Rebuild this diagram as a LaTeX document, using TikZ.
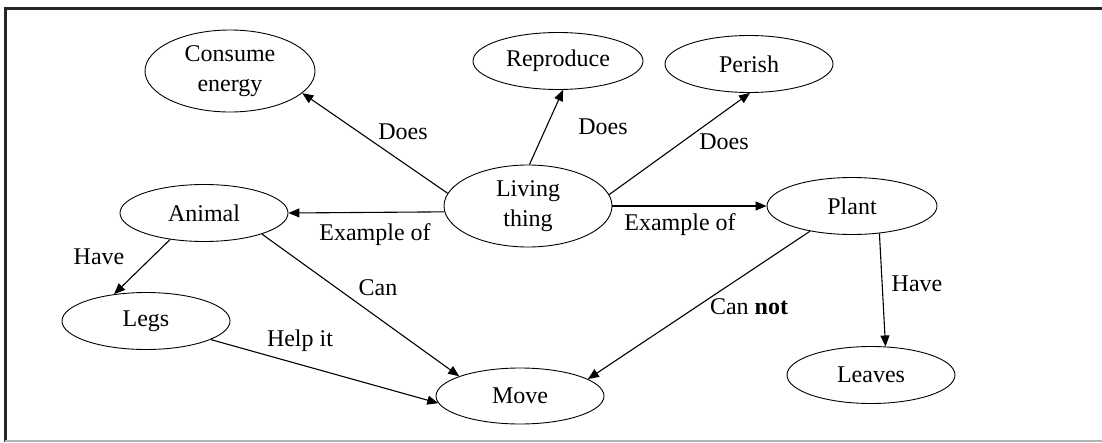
\documentclass[tikz,border=0pt]{standalone}
\usepackage{fontspec}
\setmainfont{Liberation Serif}
\usetikzlibrary{arrows.meta,shapes.geometric}

\begin{document}
\begin{tikzpicture}[x=1pt,y=-1pt,
  concept/.style={draw,ellipse,line width=0.9pt,inner sep=0pt,minimum width=168pt,minimum height=57pt,align=center,font=\fontsize{24}{29}\selectfont},
  bigconcept/.style={concept,minimum height=82pt,font=\fontsize{24}{30}\selectfont},
  link/.style={-{Triangle[length=11pt,width=9pt]},line width=1.1pt},
  lbl/.style={font=\fontsize{24}{29}\selectfont,inner sep=0pt}]
  \useasboundingbox (0,0) rectangle (1102,442);
  % frame
  \draw[line width=3pt,black!85] (5,442) -- (5,8) -- (1102,8);
  \draw[line width=1.2pt,gray!60] (5,441) -- (1102,441);
  % top row
  \node[bigconcept,minimum width=170pt] (cons) at (230,71) {Consume\\energy};
  \node[concept,minimum width=170pt] (rep) at (558,61) {Reproduce};
  \node[concept] (per) at (749,64) {Perish};
  % middle row
  \node[concept] (ani) at (204,213) {Animal};
  \node[bigconcept] (live) at (528,206) {Living\\thing};
  \node[concept,minimum width=170pt] (plant) at (852,206) {Plant};
  % bottom row
  \node[concept] (legs) at (146,321) {Legs};
  \node[concept,minimum height=56pt] (move) at (520,396) {Move};
  \node[concept] (leaves) at (871,375) {Leaves};
  % links
  \draw[link] (live.171) -- (cons.-17);
  \draw[link] (live.88) -- (rep.-80);
  \draw[link] (live.8) -- (per.-88);
  \draw[link] (live.184) -- (ani.east);
  \draw[link] (live.east) -- (plant.west);
  \draw[link] (ani.218) -- (legs.140);
  \draw[link] (ani.-20) -- (move.162);
  \draw[link] (legs.-16) -- (move.185);
  \draw[link] (plant.211) -- (move.14);
  \draw[link] (plant.-45) -- (leaves.63);
  % link labels
  \node[lbl] (does1) at (403,132) {Does};
  \node[lbl] (does2) at (603,127) {Does};
  \node[lbl] (does3) at (724,142) {Does};
  \node[lbl] (ex1) at (375,235) {Example of};
  \node[lbl] (ex2) at (680,225) {Example of};
  \node[lbl] (have1) at (99,257) {Have};
  \node[lbl] (can) at (378,288) {Can};
  \node[lbl] (help) at (300,341) {Help it};
  \node[lbl] (cannot) at (749,307) {Can \textbf{not}};
  \node[lbl] (have2) at (917,284) {Have};
\end{tikzpicture}
\end{document}
